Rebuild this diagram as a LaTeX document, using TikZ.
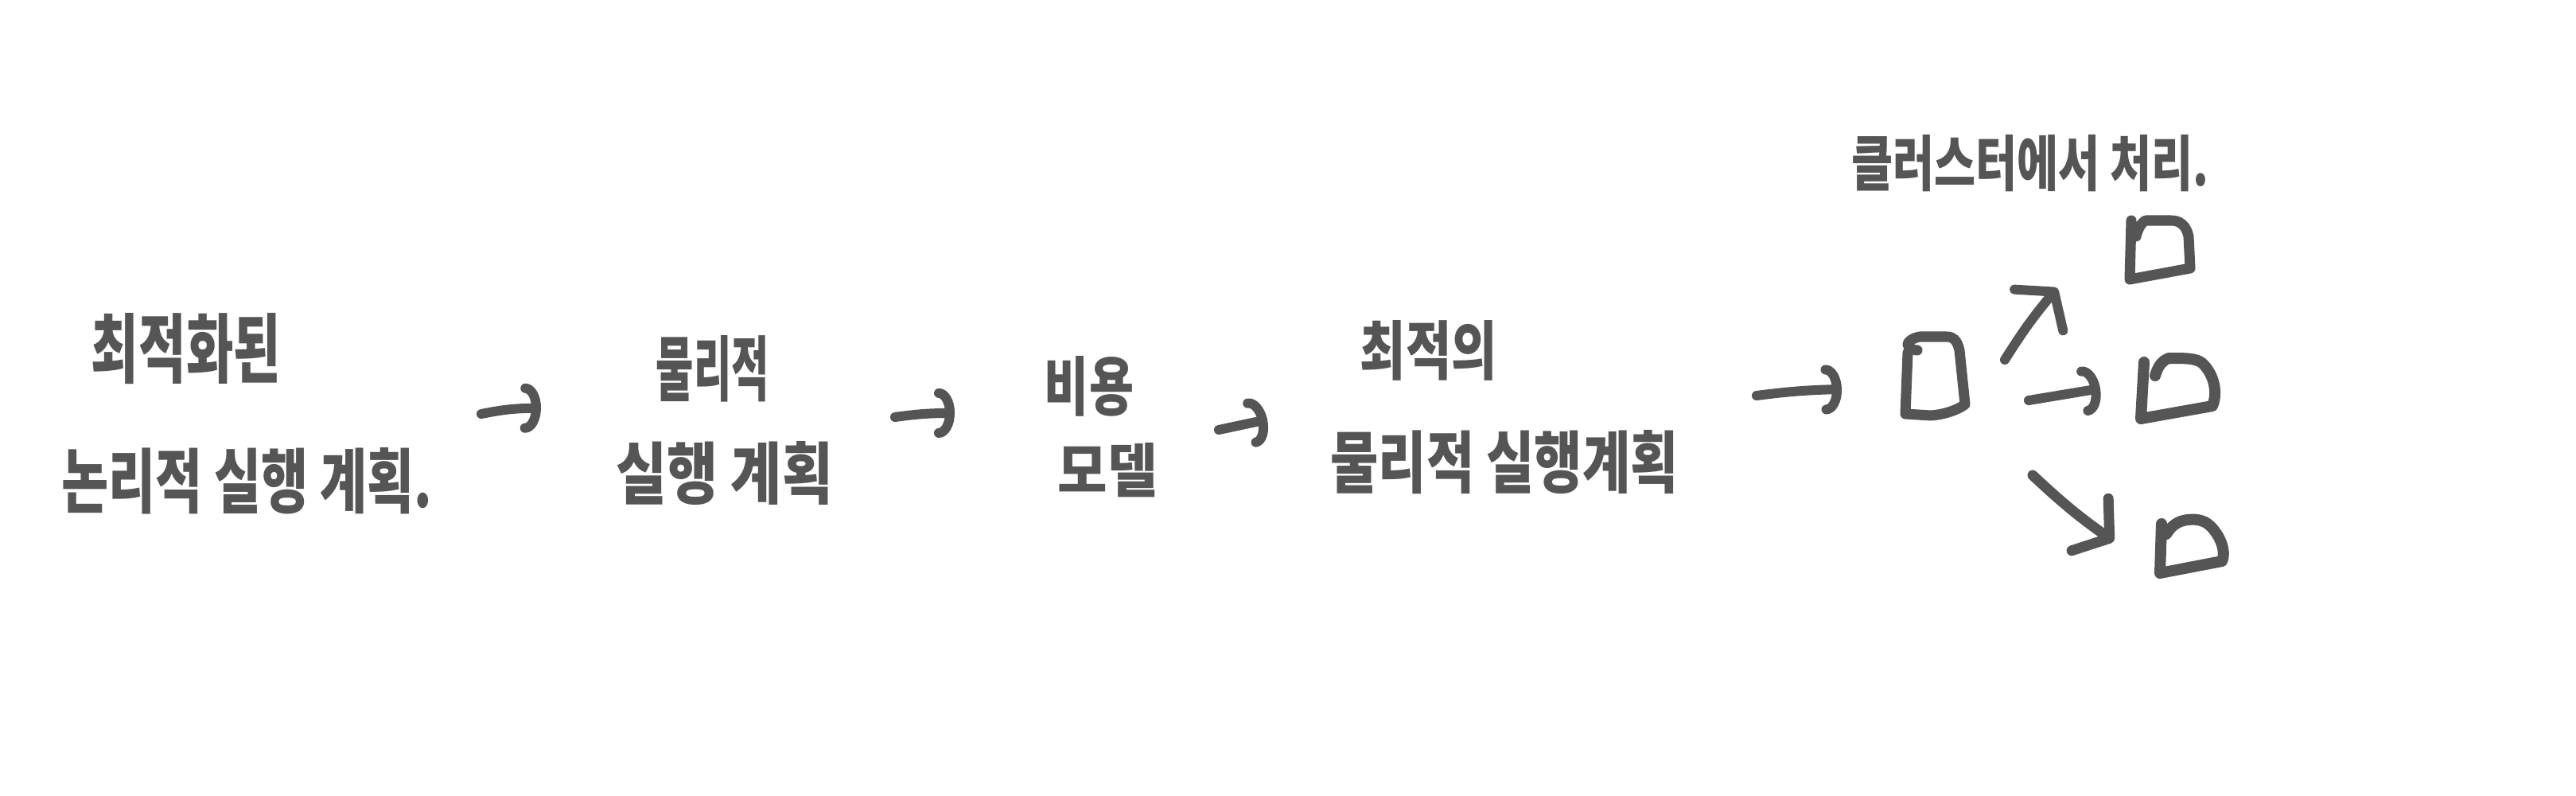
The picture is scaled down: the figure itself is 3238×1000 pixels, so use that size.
\documentclass[tikz,border=0pt]{standalone}
\usepackage{fontspec}
\usepackage{graphicx}
\newfontfamily\hand{Noto Sans CJK KR}
\usetikzlibrary{arrows.meta,calc}
\definecolor{ink}{RGB}{85,85,85}
\newcommand\hw[3]{\resizebox{#1}{#2}{\hand\bfseries #3}}
\begin{document}
\begin{tikzpicture}[x=0.01cm,y=-0.01cm,
  txt/.style={inner sep=0pt, text=ink, font=\fontsize{22}{26}\selectfont},
  stroke/.style={draw=ink, line width=0.12cm, line cap=round, line join=round},
  hook/.style={stroke, -{Arc Barb[length=0.2cm,width=0.62cm,round]}},
  barb/.style={stroke, -{Straight Barb[length=0.3cm,width=0.8cm,round]}},
  boxn/.style={inner sep=0pt, minimum width=0.9cm, minimum height=0.9cm}]
\fill[white] (0,0) rectangle (3238,1000);
\useasboundingbox (0,0) rectangle (3238,1000);

% texts
\node[txt] (t1a) at (234,438) {\hw{2.38cm}{0.80cm}{최적화된}};
\node[txt] (t1b) at (310,604) {\hw{4.65cm}{0.75cm}{논리적 실행 계획.}};
\node[txt] (t2a) at (896,463) {\hw{1.42cm}{0.75cm}{물리적}};
\node[txt] (t2b) at (911,595) {\hw{2.72cm}{0.72cm}{실행 계획}};
\node[txt] (t3a) at (1369,485) {\hw{1.12cm}{0.68cm}{비용}};
\node[txt] (t3b) at (1392,591) {\hw{1.25cm}{0.62cm}{모델}};
\node[txt] (t4a) at (1796,440) {\hw{1.72cm}{0.68cm}{최적의}};
\node[txt] (t4b) at (1891,581) {\hw{4.37cm}{0.72cm}{물리적 실행계획}};
\node[txt] (t5) at (2552,205) {\hw{4.49cm}{0.64cm}{클러스터에서 처리.}};

% cluster boxes
\node[boxn] (c) at (2433,472) {};
\node[boxn] (b1) at (2716,313) {};
\node[boxn] (b2) at (2738,488) {};
\node[boxn] (b3) at (2753,686) {};

\draw[stroke, line width=0.13cm, shift={(c.center)}] (-35,-29) -- (-38,48) -- (-6,50)
  .. controls (10,49) and (28,43) .. (37,36) -- (30,-32)
  .. controls (27,-45) and (22,-49) .. (14,-49) -- (-20,-49)
  .. controls (-30,-47) and (-36,-42) .. (-35,-39)
  .. controls (-33,-34) and (-28,-32) .. (-23,-32);
\draw[stroke, line width=0.13cm, shift={(b1.center)}] (-37,-36) -- (-39,38) -- (37,24) -- (35,-16)
  .. controls (32,-30) and (24,-36) .. (13,-36) -- (-19,-36)
  .. controls (-25,-33) and (-29,-24) .. (-31,-16);
\draw[stroke, line width=0.14cm, shift={(b2.center)}] (-43,-33) -- (-47,38) -- (43,22)
  .. controls (50,5) and (45,-18) .. (30,-32)
  .. controls (22,-38) and (10,-38) .. (-12,-38)
  .. controls (-22,-34) and (-26,-26) .. (-29,-16);
\draw[stroke, line width=0.14cm, shift={(b3.center)}] (-36,-28) -- (-38,34) -- (40,19)
  .. controls (46,5) and (36,-17) .. (22,-28)
  .. controls (14,-34) and (0,-35) .. (-12,-31)
  .. controls (-22,-27) and (-27,-20) .. (-30,-15);

% arrow end points
\coordinate (a1s) at (605,520);  \coordinate (a1e) at (680,513);
\coordinate (a2s) at (1125,524); \coordinate (a2e) at (1200,519);
\coordinate (a3s) at (1532,540); \coordinate (a3e) at (1593,527);
\coordinate (a4s) at (2208,497); \coordinate (a4e) at (2315,489);
\coordinate (a5s) at (2520,452); \coordinate (a5e) at (2586,362);
\coordinate (a6s) at (2550,503); \coordinate (a6e) at (2640,488);
\coordinate (a7s) at (2555,597); \coordinate (a7e) at (2657,680);

\draw[hook] (a1s) to[bend left=6] (a1e);
\draw[hook] (a2s) to[bend left=4] (a2e);
\draw[hook] (a3s) -- (a3e);
\draw[hook] (a4s) to[bend left=3] (a4e);
\draw[barb] (a5s) to[bend left=4] (a5e);
\draw[hook] (a6s) -- (a6e);
\draw[barb, line width=0.13cm] (a7s) to[bend right=4] (a7e);
\end{tikzpicture}
\end{document}
